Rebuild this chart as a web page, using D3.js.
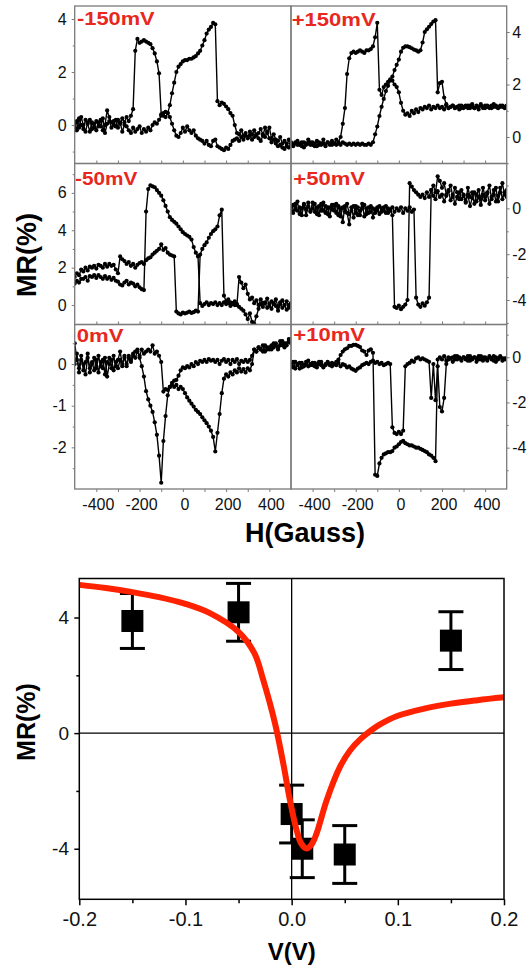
<!DOCTYPE html>
<html><head><meta charset="utf-8">
<script src="https://cdn.jsdelivr.net/npm/d3@7"></script>
<style>
body{margin:0;background:#fff}
svg{display:block}
text{font-family:"Liberation Sans",Arial,sans-serif}
</style>
</head><body>
<svg id="c" width="532" height="967"></svg>
<script>
// ---------------- DATA ----------------
const H_FIELD = [-500,-490,-480,-470,-460,-450,-440,-430,-420,-410,-400,-390,-380,-370,-360,-350,-340,-330,-320,-310,-300,-290,-280,-270,-260,-250,-240,-230,-220,-210,-200,-190,-180,-170,-160,-150,-140,-130,-120,-110,-100,-90,-80,-70,-60,-50,-40,-30,-20,-10,0,10,20,30,40,50,60,70,80,90,100,110,120,130,140,150,160,170,180,190,200,210,220,230,240,250,260,270,280,290,300,310,320,330,340,350,360,370,380,390,400,410,420,430,440,450,460,470,480,490,500];

// -150 mV
const MR_M150_A = [0.1,-0.2,0.25,0.0,-0.15,0.2,0.05,-0.25,0.1,-0.1,
 0.15,-0.05,0.2,-0.2,0.0,0.55,0.3,0.1,0.15,-0.05,
 0.2,0.05,0.25,0.1,0.3,0.15,0.35,0.6,2.8,3.25,
 3.1,3.15,3.2,3.15,3.1,3.05,2.9,2.7,2.4,1.95,
 0.4,0.35,0.3,0.45,0.75,1.2,1.6,2.0,2.2,2.3,
 2.4,2.45,2.45,2.5,2.5,2.55,2.6,2.7,2.8,3.0,
 3.2,3.45,3.6,3.7,3.85,3.8,0.9,0.75,0.85,0.8,
 0.7,0.6,0.45,0.35,0.0,-0.3,-0.35,-0.2,-0.4,-0.3,
 -0.45,-0.25,-0.35,-0.2,-0.4,-0.3,-0.15,-0.35,-0.45,-0.25,
 -0.1,-0.5,-0.35,-0.55,-0.6,-0.45,-0.7,-0.6,-0.8,-0.55,
 -0.7];
const MR_M150_B = [-0.2,0.15,-0.1,0.3,0.0,-0.25,0.1,0.2,-0.15,0.05,
 -0.2,0.1,-0.05,0.25,-0.3,0.05,0.15,-0.1,0.0,0.2,
 -0.1,0.1,-0.25,0.0,-0.05,-0.2,-0.3,-0.1,-0.25,-0.15,
 -0.05,-0.3,-0.15,-0.25,-0.1,-0.2,0.0,0.1,0.05,0.2,
 0.35,0.45,0.5,0.45,0.3,0.05,-0.2,-0.4,-0.45,-0.3,
 -0.1,-0.25,-0.05,-0.2,-0.3,-0.2,-0.4,-0.5,-0.55,-0.6,
 -0.7,-0.6,-0.75,-0.8,-0.6,-0.55,-0.8,-0.85,-0.9,-0.95,
 -0.85,-0.9,-0.75,-0.6,-0.55,-0.5,-0.6,-0.45,-0.55,-0.4,
 -0.5,-0.4,-0.55,-0.45,-0.35,-0.5,-0.6,-0.4,-0.1,-0.3,
 -0.5,-0.65,-0.55,-0.7,-0.8,-0.75,-0.85,-0.9,-0.7,-0.85,
 -0.8];

// +150 mV
const MR_P150_A = [-0.2,-0.35,-0.25,-0.15,-0.3,-0.2,-0.4,-0.25,-0.1,-0.3,
 -0.2,-0.35,-0.15,-0.3,-0.25,-0.1,-0.35,-0.2,-0.3,-0.15,
 -0.25,-0.1,-0.2,0.0,0.5,1.1,2.4,3.0,3.2,3.25,
 3.2,3.25,3.3,3.25,3.2,3.3,3.3,3.35,3.45,3.8,
 4.35,1.8,1.6,1.9,2.0,2.1,2.2,2.15,2.0,1.9,
 1.7,1.3,1.0,0.85,0.9,0.8,1.0,0.9,1.05,0.95,
 1.1,1.05,1.15,1.1,1.2,1.05,1.15,1.1,1.2,1.1,
 1.15,1.05,1.2,1.1,1.15,1.2,1.1,1.15,1.05,1.2,
 1.1,1.15,1.2,1.1,1.25,1.1,1.15,1.05,1.2,1.15,
 1.1,1.2,1.15,1.1,1.25,1.15,1.1,1.2,1.15,1.1,
 1.2];
const MR_P150_B = [-0.25,-0.3,-0.2,-0.3,-0.25,-0.35,-0.2,-0.3,-0.25,-0.2,
 -0.3,-0.25,-0.35,-0.2,-0.3,-0.25,-0.3,-0.2,-0.25,-0.3,
 -0.25,-0.3,-0.25,-0.3,-0.2,-0.25,-0.3,-0.25,-0.3,-0.25,
 -0.3,-0.25,-0.3,-0.25,-0.3,-0.3,-0.25,-0.3,-0.2,0.1,
 0.4,0.8,1.15,1.45,1.75,1.95,2.15,2.3,2.55,2.75,
 2.95,3.25,3.4,3.45,3.45,3.42,3.38,3.33,3.3,3.25,
 3.3,3.6,4.0,4.1,4.2,4.3,4.4,4.45,1.7,2.05,
 2.1,1.5,1.25,1.1,1.15,1.2,1.1,1.15,1.2,1.1,
 1.15,1.2,1.1,1.2,1.15,1.1,1.2,1.15,1.25,1.1,
 1.2,1.15,1.1,1.2,1.15,1.2,1.1,1.15,1.2,1.15,
 1.1];

// -50 mV
const MR_M50_A = [1.15,1.3,1.2,1.4,1.4,1.5,1.3,1.55,1.5,1.6,
 1.45,1.6,1.5,1.4,1.55,1.4,1.5,1.35,1.45,1.3,
 1.25,1.1,1.05,1.2,1.3,1.1,1.2,1.15,1.0,1.1,
 0.95,0.85,0.8,5.0,6.2,6.4,6.35,6.3,6.15,6.0,
 5.85,5.6,5.3,5.0,4.7,4.55,4.45,4.35,4.2,4.05,
 3.9,3.8,3.72,3.65,3.5,3.1,2.8,2.6,0.1,-0.05,
 0.05,0.15,0.0,0.1,0.05,0.15,0.0,0.1,0.0,0.15,
 0.05,0.1,-0.05,0.1,0.0,0.05,-0.1,-0.2,-0.3,-0.5,
 -0.75,-0.45,-0.9,-1.0,-0.6,-0.2,0.05,-0.1,0.1,-0.15,
 0.05,-0.2,0.1,-0.05,-0.3,0.05,-0.15,0.0,-0.25,0.0,
 -0.1];
const MR_M50_B = [1.5,1.7,1.6,1.9,1.8,2.0,1.85,2.05,2.0,2.1,
 1.95,2.15,2.1,2.0,2.2,2.05,2.2,2.1,2.15,1.9,
 1.7,2.6,2.45,2.35,2.2,2.3,2.1,2.2,2.0,2.15,
 2.25,2.3,2.2,2.4,2.5,2.55,2.7,2.8,2.9,3.0,
 3.25,2.95,3.05,2.8,2.7,2.65,2.6,-0.35,-0.45,-0.5,
 -0.4,-0.45,-0.4,-0.35,-0.42,-0.38,-0.3,-0.35,2.7,3.0,
 3.2,3.35,3.6,3.8,3.95,4.05,4.2,4.8,5.1,0.5,
 0.2,0.3,0.15,0.05,0.2,0.0,1.5,1.2,0.9,1.1,
 0.6,0.3,0.4,0.1,0.25,0.0,0.3,0.1,0.15,0.35,
 -0.05,0.2,0.05,0.3,-0.1,0.15,0.25,0.0,0.2,-0.15,
 0.1];

// +50 mV
const MR_P50_A = [0.1,-0.2,0.2,-0.1,0.05,-0.3,0.15,-0.05,0.25,-0.15,
 0.0,0.2,-0.25,0.1,-0.1,0.25,-0.2,0.05,-0.35,0.15,
 -0.1,0.2,-0.3,0.0,-0.6,0.1,-0.2,-0.7,0.05,-0.4,
 0.1,-0.3,-0.1,0.2,-0.35,0.0,-0.2,0.1,-0.4,-0.05,
 0.05,-0.25,0.0,-0.1,0.1,-0.2,-0.05,-0.3,-4.3,-4.35,
 -4.25,-4.4,-4.3,-4.2,-4.0,1.1,0.95,0.8,0.7,0.6,
 0.5,0.6,0.45,0.7,0.5,0.8,0.55,0.4,0.75,0.5,
 0.6,0.3,0.55,0.75,0.35,0.6,0.2,0.5,0.7,0.4,
 0.55,0.25,0.6,0.1,0.45,0.7,0.3,0.5,0.15,0.6,
 0.35,0.65,0.2,0.5,0.8,0.3,0.55,0.9,0.4,0.7,
 0.5];
const MR_P50_B = [-0.15,0.15,-0.05,0.3,-0.25,0.0,0.2,-0.3,0.1,-0.1,
 0.25,-0.15,0.05,-0.3,0.2,-0.1,0.1,-0.25,0.05,-0.05,
 0.15,-0.2,0.1,-0.35,0.05,-0.15,0.2,-0.25,-0.1,0.1,
 -0.2,0.05,-0.3,0.0,0.15,-0.25,0.05,-0.15,0.0,-0.2,
 -0.1,0.1,-0.15,0.05,-0.2,0.0,-0.1,0.05,-0.15,0.0,
 -0.1,0.05,-0.2,0.0,-0.1,0.05,-0.15,-0.05,-3.9,-4.2,
 -4.3,-4.15,-4.25,-4.1,-3.9,0.8,1.0,0.7,1.4,1.2,
 0.9,1.1,0.6,0.8,1.0,0.5,0.9,0.7,0.4,0.8,
 0.6,0.3,0.9,0.5,0.7,0.2,0.6,0.8,0.4,0.9,
 0.5,0.7,1.0,0.4,0.6,0.9,0.3,0.7,1.1,0.6,
 0.8];

// 0 mV
const MR_0_A = [0.5,0.1,-0.1,0.2,-0.15,0.05,0.25,-0.2,0.0,0.15,
 -0.1,0.2,-0.05,0.1,-0.25,0.05,0.15,-0.1,0.2,-0.05,
 0.1,0.3,0.0,0.15,-0.05,0.2,0.1,0.25,0.15,0.3,
 0.2,0.35,0.25,0.3,0.35,0.3,0.45,0.25,0.3,0.2,
 0.05,-0.66,-0.6,-0.62,-0.55,-0.5,-0.55,-0.5,-0.6,-0.55,
 -0.6,-0.7,-0.8,-0.88,-0.95,-1.02,-1.1,-1.15,-1.2,-1.28,
 -1.35,-1.42,-1.5,-1.6,-1.75,-2.1,-1.65,-1.2,-0.7,-0.35,
 -0.25,-0.3,-0.2,-0.25,-0.15,-0.2,-0.1,-0.18,-0.12,-0.2,
 -0.1,-0.15,0.0,0.35,0.3,0.4,0.35,0.45,0.3,0.4,
 0.35,0.45,0.4,0.5,0.35,0.45,0.55,0.4,0.5,0.6,
 0.5];
const MR_0_B = [0.0,0.25,-0.2,0.1,0.0,-0.25,0.15,-0.1,0.05,-0.15,
 0.1,-0.2,0.05,-0.1,0.15,-0.3,0.0,0.1,-0.15,0.05,
 -0.1,0.1,-0.05,0.2,0.0,0.15,0.05,0.2,0.3,0.35,
 0.15,-0.05,-0.3,-0.65,-0.85,-1.0,-1.15,-1.4,-1.7,-2.2,
 -2.85,-1.85,-1.25,-0.75,-0.55,-0.45,-0.4,-0.38,-0.28,-0.15,
 -0.08,-0.1,-0.05,-0.08,0.0,-0.05,0.05,0.0,0.08,0.05,
 0.1,0.05,0.12,0.08,0.1,0.05,0.1,0.0,0.08,0.12,
 0.05,0.1,0.0,0.1,0.05,0.12,0.0,0.08,0.05,0.1,
 0.05,0.1,0.2,0.35,0.3,0.4,0.35,0.3,0.45,0.35,
 0.4,0.35,0.5,0.45,0.4,0.55,0.45,0.5,0.45,0.55,
 0.6];

// +10 mV
const MR_P10_A = [-0.3,-0.45,-0.2,-0.35,-0.5,-0.25,-0.4,-0.3,-0.15,-0.35,
 -0.25,-0.4,-0.3,-0.2,-0.35,-0.45,-0.3,-0.2,-0.35,-0.25,
 -0.3,-0.2,-0.1,0.1,0.25,0.35,0.4,0.5,0.5,0.55,
 0.55,0.5,0.45,0.3,0.25,0.1,0.3,0.35,0.2,-5.2,
 -5.25,-4.7,-4.45,-4.3,-4.25,-4.2,-4.2,-4.15,-4.0,-3.95,
 -3.85,-3.75,-3.7,-3.8,-3.85,-3.9,-3.9,-3.95,-4.0,-4.0,
 -4.05,-4.1,-4.15,-4.2,-4.3,-4.35,-4.45,-4.6,-0.1,0.0,
 -0.1,0.05,-0.15,0.0,-0.05,-0.2,0.05,-0.1,0.0,-0.15,
 0.0,-0.1,0.05,-0.15,-0.05,0.0,-0.2,0.05,-0.1,0.0,
 -0.05,-0.15,0.0,-0.1,0.05,-0.2,-0.05,0.0,-0.15,-0.05,
 -0.1];
const MR_P10_B = [-0.4,-0.2,-0.5,-0.3,-0.25,-0.45,-0.35,-0.2,-0.4,-0.3,
 -0.35,-0.25,-0.45,-0.3,-0.2,-0.4,-0.35,-0.25,-0.3,-0.4,
 -0.3,-0.35,-0.25,-0.4,-0.3,-0.35,-0.45,-0.4,-0.5,-0.55,
 -0.6,-0.5,-0.45,-0.35,-0.3,-0.25,-0.3,-0.2,-0.15,-0.25,
 -0.2,-0.3,-0.25,-0.35,-0.3,-0.25,-0.3,-3.1,-3.35,-3.4,
 -3.3,-3.4,-3.25,-0.4,-0.3,-0.25,-0.15,-0.2,-0.05,0.0,
 -0.1,-0.05,-0.1,-0.15,-0.2,-1.8,-0.3,-1.9,-0.4,-2.2,
 -2.4,-1.8,-0.3,-0.1,-0.05,0.0,-0.1,0.05,-0.05,-0.1,
 0.0,-0.05,-0.15,0.05,-0.1,0.0,-0.05,-0.1,0.05,-0.15,
 0.0,-0.1,0.05,-0.05,-0.15,0.0,-0.1,0.05,-0.05,-0.1,
 -0.05];

const PANEL_LABELS = ["-150mV", "+150mV", "-50mV", "+50mV", "0mV", "+10mV"];
const PANEL_Y_TICKS = [[0,2,4],[0,2,4],[0,2,4,6],[0,-2,-4],[0,-1,-2],[0,-2,-4]];
const PANEL_Y_MINOR = [[-1,1,3],[-1,1,3],[1,3,5,7],[1,-1,-3,-5],[0.5,-0.5,-1.5,-2.5],[1,-1,-3,-5]];
const H_TICKS = [-400,-200,0,200,400];
const H_MINOR = [-400,-300,-200,-100,0,100,200,300,400];

// bias dependence
const V_POINTS = [-0.15, -0.05, 0.0, 0.01, 0.05, 0.15];
const MR_POINTS = [3.88, 4.18, -2.8, -4.0, -4.2, 3.2];
const MR_ERR = [0.95, 1.0, 1.0, 1.0, 1.0, 1.0];
const FIT_V  = [-0.2,-0.175,-0.15,-0.125,-0.1,-0.077,-0.05,-0.035,-0.0267,-0.0157,-0.0079,-0.0016,0.0047,0.009,0.0141,0.019,0.0235,0.033,0.0455,0.055,0.065,0.075,0.0832,0.1,0.125,0.15,0.175,0.2];
const FIT_MR = [5.13,5.02,4.88,4.705,4.47,4.15,3.5,2.76,1.83,0.34,-1.05,-2.32,-3.36,-3.82,-3.99,-3.84,-3.47,-2.32,-1.17,-0.6,-0.2,0.1,0.3,0.6,0.85,1.02,1.14,1.24];
const V_TICKS = [-0.2,-0.1,0.0,0.1,0.2];
const V_MINOR = [-0.15,-0.05,0.05,0.15];
const MR_TICKS = [-4,0,4];
const MR_MINOR = [-2,2];

// ---------------- LAYOUT ----------------
const svg = d3.select("#c");
const COLS = [[74.7, 291], [291, 506.7]];
const ROWS = [[6, 163.5], [163.5, 324.5], [324.5, 489]];
const Y_DOMAINS = [[-1.45,4.49],[-1.01,4.99],[-1.04,7.57],[-5.07,1.96],[-3.0,0.95],[-5.83,1.45]];
const SWEEPS = [[MR_M150_A,MR_M150_B],[MR_P150_A,MR_P150_B],[MR_M50_A,MR_M50_B],[MR_P50_A,MR_P50_B],[MR_0_A,MR_0_B],[MR_P10_A,MR_P10_B]];
const LABEL_POS = [[77,25,77.7],[291.7,26,84],[75,185,62.3],[293.3,185,71.7],[76.7,341.5,46.7],[293.3,341,71.7]];
const FRAME = "#7a7a7a";
const RED_TXT = "#e8271e";
const fmt = d => String(d);

const defs = svg.append("defs");

PANEL_LABELS.forEach((lab, i) => {
  const r = Math.floor(i / 2), c = i % 2;
  const [x0, x1] = COLS[c], [y0, y1] = ROWS[r];
  const x = d3.scaleLinear().domain([-500, 500]).range([x0, x1]);
  const y = d3.scaleLinear().domain(Y_DOMAINS[i]).range([y1, y0]);

  defs.append("clipPath").attr("id", "clip" + i)
    .append("rect").attr("x", x0).attr("y", y0).attr("width", x1 - x0).attr("height", y1 - y0);

  const g = svg.append("g").attr("clip-path", "url(#clip" + i + ")");
  const line = d3.line().x((d, j) => x(H_FIELD[j])).y(d => y(d));
  SWEEPS[i].forEach(sw => {
    g.append("path").attr("d", line(sw)).attr("fill", "none")
      .attr("stroke", "#000").attr("stroke-width", 1.4).attr("stroke-linejoin", "round");
    g.selectAll(null).data(sw).join("circle")
      .attr("cx", (d, j) => x(H_FIELD[j])).attr("cy", d => y(d)).attr("r", 2.1).attr("fill", "#000");
  });

  // y axis
  const isLeft = c === 0;
  const ax = isLeft ? d3.axisLeft(y) : d3.axisRight(y);
  const yg = svg.append("g").attr("transform", `translate(${isLeft ? x0 : x1},0)`)
    .call(ax.tickValues(PANEL_Y_TICKS[i]).tickSize(3).tickPadding(isLeft ? 5 : 2.5).tickFormat(fmt));
  const axm = isLeft ? d3.axisLeft(y) : d3.axisRight(y);
  const ymg = svg.append("g").attr("transform", `translate(${isLeft ? x0 : x1},0)`)
    .call(axm.tickValues(PANEL_Y_MINOR[i].filter(v => v > Y_DOMAINS[i][0] && v < Y_DOMAINS[i][1])).tickSize(2).tickFormat(""));
  [yg, ymg].forEach(gg => {
    gg.select(".domain").remove();
    gg.selectAll("line").attr("stroke", FRAME);
    gg.selectAll("text").attr("font-size", 16).attr("fill", "#111");
  });

  // x ticks
  if (r > 0) {
    const tg = svg.append("g").attr("transform", `translate(0,${y0})`)
      .call(d3.axisTop(x).tickValues(H_MINOR).tickSize(3).tickFormat(""));
    tg.select(".domain").remove();
    tg.selectAll("line").attr("stroke", FRAME);
  }
  if (r === 2) {
    const bg = svg.append("g").attr("transform", `translate(0,${y1})`)
      .call(d3.axisBottom(x).tickValues(H_MINOR).tickSize(3).tickFormat(""));
    bg.select(".domain").remove();
    bg.selectAll("line").attr("stroke", FRAME);
    const lg = svg.append("g").attr("transform", `translate(1.5,${y1})`)
      .call(d3.axisBottom(x).tickValues(H_TICKS).tickSize(0).tickPadding(9.5).tickFormat(fmt));
    lg.select(".domain").remove();
    lg.selectAll("text").attr("font-size", 16).attr("fill", "#111");
  }

  svg.append("rect").attr("x", x0).attr("y", y0).attr("width", x1 - x0).attr("height", y1 - y0)
    .attr("fill", "none").attr("stroke", FRAME).attr("stroke-width", 1.3);

  const [lx, ly, lw] = LABEL_POS[i];
  svg.append("text").attr("x", lx).attr("y", ly).text(lab)
    .attr("font-size", 19).attr("font-weight", "bold").attr("fill", RED_TXT)
    .attr("textLength", lw).attr("lengthAdjust", "spacingAndGlyphs");
});

svg.append("text").attr("transform", "translate(36,255) rotate(-90)").attr("text-anchor", "middle")
  .attr("font-size", 27).attr("font-weight", "bold").text("MR(%)");
svg.append("text").attr("x", 305).attr("y", 541.5).attr("text-anchor", "middle")
  .attr("font-size", 27).attr("font-weight", "bold").text("H(Gauss)");

// ---------------- BOTTOM CHART ----------------
const bx0 = 79.3, bx1 = 504, by0 = 578.5, by1 = 899.3;
const xv = d3.scaleLinear().domain([-0.2, 0.2]).range([bx0, bx1]);
const yv = d3.scaleLinear().domain([-5.75, 5.35]).range([by1, by0]);

defs.append("clipPath").attr("id", "clipB")
  .append("rect").attr("x", bx0).attr("y", by0).attr("width", bx1 - bx0).attr("height", by1 - by0);

svg.append("line").attr("x1", bx0).attr("x2", bx1).attr("y1", yv(0)).attr("y2", yv(0))
  .attr("stroke", "#000").attr("stroke-width", 1.3);
svg.append("line").attr("x1", xv(0)).attr("x2", xv(0)).attr("y1", by0).attr("y2", by1)
  .attr("stroke", "#000").attr("stroke-width", 1.3);

const pts = V_POINTS.map((v, i) => ({v, m: MR_POINTS[i], e: MR_ERR[i]}));
const eb = svg.append("g");
pts.forEach(p => {
  const cx = xv(p.v);
  eb.append("line").attr("x1", cx).attr("x2", cx).attr("y1", yv(p.m - p.e)).attr("y2", yv(p.m + p.e))
    .attr("stroke", "#000").attr("stroke-width", 3);
  [p.m - p.e, p.m + p.e].forEach(val => {
    eb.append("line").attr("x1", cx - 12.5).attr("x2", cx + 12.5).attr("y1", yv(val)).attr("y2", yv(val))
      .attr("stroke", "#000").attr("stroke-width", 3);
  });
  eb.append("rect").attr("x", cx - 11).attr("y", yv(p.m) - 11).attr("width", 22).attr("height", 22).attr("fill", "#000");
});

const fit = FIT_V.map((v, i) => [v, FIT_MR[i]]);
svg.append("g").attr("clip-path", "url(#clipB)").append("path")
  .attr("d", d3.line().x(d => xv(d[0])).y(d => yv(d[1])).curve(d3.curveCatmullRom.alpha(0.5))(fit))
  .attr("fill", "none").attr("stroke", "#ff2200").attr("stroke-width", 6).attr("stroke-linejoin", "round");

svg.append("rect").attr("x", bx0).attr("y", by0).attr("width", bx1 - bx0).attr("height", by1 - by0)
  .attr("fill", "none").attr("stroke", "#000").attr("stroke-width", 1.5);

const gxb = svg.append("g").attr("transform", `translate(0,${by1})`)
  .call(d3.axisBottom(xv).tickValues(V_TICKS).tickSize(6).tickPadding(6.5).tickFormat(d => d.toFixed(1)));
const gxm = svg.append("g").attr("transform", `translate(0,${by1})`)
  .call(d3.axisBottom(xv).tickValues(V_MINOR).tickSize(4).tickFormat(""));
const gyb = svg.append("g").attr("transform", `translate(${bx0},0)`)
  .call(d3.axisLeft(yv).tickValues(MR_TICKS).tickSize(5).tickPadding(5.3).tickFormat(fmt));
const gym = svg.append("g").attr("transform", `translate(${bx0},0)`)
  .call(d3.axisLeft(yv).tickValues(MR_MINOR).tickSize(3).tickFormat(""));
[gxb, gxm, gyb, gym].forEach(gg => {
  gg.select(".domain").remove();
  gg.selectAll("line").attr("stroke", "#000").attr("stroke-width", 1.5);
});
gxb.selectAll("text").attr("font-size", 20).attr("fill", "#111");
gyb.selectAll("text").attr("font-size", 19).attr("fill", "#111");

svg.append("text").attr("transform", "translate(35,722) rotate(-90)").attr("text-anchor", "middle")
  .attr("font-size", 25).attr("font-weight", "bold").text("MR(%)");
svg.append("text").attr("x", xv(0)).attr("y", 960).attr("text-anchor", "middle")
  .attr("font-size", 24).attr("font-weight", "bold").text("V(V)");
</script>
</body></html>
